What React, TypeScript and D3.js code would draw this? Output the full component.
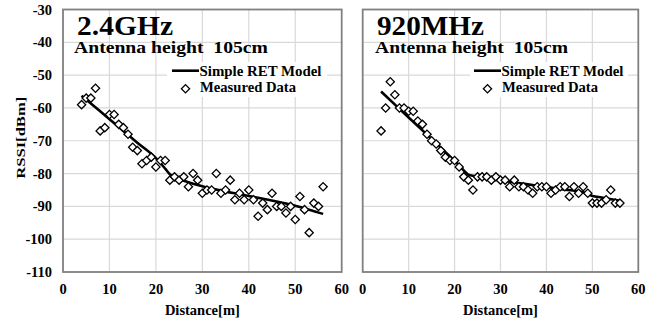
import React, { useEffect, useRef } from "react";
import * as d3 from "d3";

// measured distances [m], same for both bands
const distances = [
  4, 5, 6, 7, 8, 9, 10, 11, 12, 13, 14, 15, 16, 17, 18, 19, 20, 21, 22, 23, 24, 25, 26, 27, 28, 29,
  30, 31, 32, 33, 34, 35, 36, 37, 38, 39, 40, 41, 42, 43, 44, 45, 46, 47, 48, 49, 50, 51, 52, 53,
  54, 55, 56,
];

const measured24 = [
  -59, -57, -57, -54, -67, -66, -62, -62, -65, -66, -68, -72, -73, -77, -76, -75, -78, -76, -76, -82,
  -81, -82, -81, -84, -80, -82, -86, -85, -85, -80, -86, -85, -82, -88, -86, -88, -85, -88, -93, -89,
  -91, -86, -90, -90, -92, -90, -94, -87, -91, -98, -89, -90, -84,
];

const measured920 = [
  -67, -60, -52, -56, -60, -60, -61, -61, -64, -65, -68, -70, -71, -73, -75, -76, -76, -78, -81, -82,
  -85, -81, -81, -81, -82, -81, -82, -82, -84, -82, -84, -84, -85, -86, -84, -84, -84, -86, -85, -84,
  -84, -87, -84, -86, -84, -86, -89, -89, -89, -88, -85, -89, -89,
];

// Simple RET model curves
const modelDist24 = [4, 8, 12, 16, 20, 22, 23, 24, 26, 28, 30, 34, 38, 42, 46, 50, 53, 56];
const model24 = [
  -56.3, -61, -65.8, -70.6, -75.3, -78.5, -80.2, -81, -82.2, -83.1, -83.9, -85.2, -86.3, -87.4,
  -88.5, -89.8, -91, -92.3,
];
const modelDist920 = [4, 8, 12, 16, 19, 21, 23, 24, 28, 32, 36, 40, 44, 48, 50, 52, 56];
const model920 = [
  -55, -60.3, -65.5, -70.8, -74.8, -77.5, -80.3, -80.7, -81.6, -82.5, -83.3, -84.1, -84.9, -85.7,
  -86.8, -87.3, -88.3,
];

const xTicks = [0, 10, 20, 30, 40, 50, 60];
const yTicks = [-30, -40, -50, -60, -70, -80, -90, -100, -110];

const FONT = "'Liberation Serif', 'Times New Roman', serif";

function App() {
  const svgRef = useRef<SVGSVGElement>(null);
  const width = 661;
  const height = 323;

  useEffect(() => {
    const svg = d3.select(svgRef.current);
    svg.selectAll("*").remove();

    const top = 9.5;
    const bottom = 272;

    const panels = [
      {
        left: 63,
        right: 341.7,
        title: "2.4GHz",
        titleX: 77,
        titleW: 96,
        subX: 74,
        subW: 194,
        legX: 172,
        legBox: [167, 327],
        measured: measured24,
        modelDist: modelDist24,
        model: model24,
        yLabels: true,
      },
      {
        left: 362.7,
        right: 638.3,
        title: "920MHz",
        titleX: 377,
        titleW: 107,
        subX: 375,
        subW: 193,
        legX: 474,
        legBox: [470, 628],
        measured: measured920,
        modelDist: modelDist920,
        model: model920,
        yLabels: false,
      },
    ];

    const y = d3.scaleLinear().domain([-110, -30]).range([bottom, top]);

    panels.forEach((p) => {
      const x = d3.scaleLinear().domain([0, 60]).range([p.left, p.right]);
      const g = svg.append("g");

      // grid lines
      g.append("g")
        .selectAll("line.h")
        .data(yTicks.slice(1, -1))
        .join("line")
        .attr("x1", p.left)
        .attr("x2", p.right)
        .attr("y1", (d) => y(d))
        .attr("y2", (d) => y(d))
        .attr("stroke", "#d9d9d9")
        .attr("stroke-width", 1.2);
      g.append("g")
        .selectAll("line.v")
        .data(xTicks.slice(1, -1))
        .join("line")
        .attr("x1", (d) => x(d))
        .attr("x2", (d) => x(d))
        .attr("y1", top)
        .attr("y2", bottom)
        .attr("stroke", "#d9d9d9")
        .attr("stroke-width", 1.2);

      // legend background
      g.append("rect")
        .attr("x", p.legBox[0])
        .attr("y", 62)
        .attr("width", p.legBox[1] - p.legBox[0])
        .attr("height", 35)
        .attr("fill", "#fff");

      // frame
      g.append("rect")
        .attr("x", p.left)
        .attr("y", top)
        .attr("width", p.right - p.left)
        .attr("height", bottom - top)
        .attr("fill", "none")
        .attr("stroke", "#808080")
        .attr("stroke-width", 1.8);

      // x tick labels
      g.append("g")
        .selectAll("text")
        .data(xTicks)
        .join("text")
        .attr("x", (d) => x(d))
        .attr("y", 293.5)
        .attr("text-anchor", "middle")
        .style("font-family", FONT)
        .style("font-weight", "bold")
        .style("font-size", "14.5px")
        .text((d) => d);

      g.append("text")
        .attr("x", (p.left + p.right) / 2)
        .attr("y", 315)
        .attr("text-anchor", "middle")
        .style("font-family", FONT)
        .style("font-weight", "bold")
        .style("font-size", "14.5px")
        .text("Distance[m]");

      if (p.yLabels) {
        g.append("g")
          .selectAll("text")
          .data(yTicks)
          .join("text")
          .attr("x", 52)
          .attr("y", (d) => y(d) + 5)
          .attr("text-anchor", "end")
          .style("font-family", FONT)
          .style("font-weight", "bold")
          .style("font-size", "14.5px")
          .text((d) => d);

        g.append("text")
          .attr("transform", `translate(25,${(top + bottom) / 2 - 3})rotate(-90)`)
          .attr("text-anchor", "middle")
          .style("font-family", FONT)
          .style("font-weight", "bold")
          .style("font-size", "13px")
          .attr("textLength", 82)
          .attr("lengthAdjust", "spacingAndGlyphs")
          .text("RSSI[dBm]");
      }

      // model line
      const line = d3
        .line<number>()
        .x((d, i) => x(p.modelDist[i]))
        .y((d) => y(d))
        .curve(d3.curveMonotoneX);
      g.append("path")
        .datum(p.model)
        .attr("d", line)
        .attr("fill", "none")
        .attr("stroke", "#000")
        .attr("stroke-width", 2.6);

      // measured diamonds
      const diamond = d3.symbol().type(d3.symbolSquare).size(34);
      g.append("g")
        .selectAll("path")
        .data(p.measured)
        .join("path")
        .attr("d", diamond)
        .attr("transform", (d, i) => `translate(${x(distances[i])},${y(d)})rotate(45)`)
        .attr("fill", "#fff")
        .attr("stroke", "#000")
        .attr("stroke-width", 1.3);

      // titles
      g.append("text")
        .attr("x", p.titleX)
        .attr("y", 35)
        .style("font-family", FONT)
        .style("font-weight", "bold")
        .style("font-size", "27px")
        .attr("textLength", p.titleW)
        .attr("lengthAdjust", "spacingAndGlyphs")
        .text(p.title);
      g.append("text")
        .attr("x", p.subX)
        .attr("y", 53)
        .style("font-family", FONT)
        .style("font-weight", "bold")
        .style("font-size", "17px")
        .style("white-space", "pre")
        .attr("textLength", p.subW)
        .attr("lengthAdjust", "spacingAndGlyphs")
        .text("Antenna height  105cm");

      // legend
      g.append("line")
        .attr("x1", p.legX)
        .attr("x2", p.legX + 27)
        .attr("y1", 70.7)
        .attr("y2", 70.7)
        .attr("stroke", "#000")
        .attr("stroke-width", 2.6);
      g.append("text")
        .attr("x", p.legX + 27.5)
        .attr("y", 76)
        .style("font-family", FONT)
        .style("font-weight", "bold")
        .style("font-size", "14.5px")
        .attr("textLength", 122)
        .attr("lengthAdjust", "spacingAndGlyphs")
        .text("Simple RET Model");
      g.append("path")
        .attr("d", diamond)
        .attr("transform", `translate(${p.legX + 13.5},88.7)rotate(45)`)
        .attr("fill", "#fff")
        .attr("stroke", "#000")
        .attr("stroke-width", 1.3);
      g.append("text")
        .attr("x", p.legX + 28)
        .attr("y", 92)
        .style("font-family", FONT)
        .style("font-weight", "bold")
        .style("font-size", "14.5px")
        .attr("textLength", 96)
        .attr("lengthAdjust", "spacingAndGlyphs")
        .text("Measured Data");
    });
  }, []);

  return (
    <svg
      ref={svgRef}
      width={width}
      height={height}
      style={{ position: "absolute", left: 0, top: 0, background: "#fff" }}
    ></svg>
  );
}

export default App;
